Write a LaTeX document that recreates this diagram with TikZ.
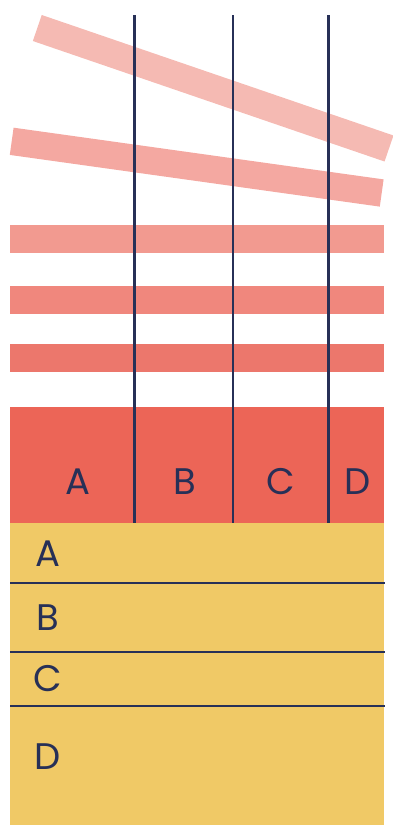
\documentclass[tikz,border=0pt]{standalone}
\usepackage{fontspec}
\setmainfont{Poppins}
\usetikzlibrary{positioning}
\definecolor{navy}{HTML}{273057}
\definecolor{pinkA}{HTML}{F5BAB3}
\definecolor{pinkB}{HTML}{F4A8A1}
\definecolor{pinkC}{HTML}{F29A90}
\definecolor{pinkD}{HTML}{F0877D}
\definecolor{pinkE}{HTML}{EC776C}
\definecolor{redblock}{HTML}{EC6557}
\definecolor{sand}{HTML}{F0C966}

\begin{document}
\begin{tikzpicture}[x=1pt, y=-1pt, band/.style={line width=27.5pt}, rule/.style={draw=navy, line width=2.2pt}, lab/.style={text=navy, inner sep=0pt, font=\fontsize{37}{40}\selectfont}]
\useasboundingbox (0,0) rectangle (392,825);
% slanted bands
\coordinate (s1a) at (37.3,28); \coordinate (s1b) at (389,148.5);
\coordinate (s2a) at (11.7,141.3); \coordinate (s2b) at (381.7,193);
\draw[band, pinkA] (s1a) -- (s1b);
\draw[band, pinkB] (s2a) -- (s2b);
% flat bands
\foreach \y/\c in {225/pinkC, 286/pinkD, 344/pinkE}
  \fill[\c] (10,\y) rectangle (384,\y+27.7);
\fill[redblock] (10,406.7) rectangle (384,522.7);
\fill[sand] (10,522.7) rectangle (384,825);
% columns
\foreach \x [count=\i] in {134.5,233,328.5} {
  \coordinate (top\i) at (\x,15);
  \coordinate (bot\i) at (\x,522.7);
  \draw[rule] (top\i) -- (bot\i);
}
\foreach \l/\x in {A/77.5, B/185, C/280.5, D/357.5}
  \node[lab] (col\l) at (\x,481.7) {\l};
% rows
\foreach \y [count=\i] in {583,651.7,705.7} {
  \coordinate (left\i) at (10,\y);
  \coordinate (right\i) at (385,\y);
  \draw[rule] (left\i) -- (right\i);
}
\foreach \l/\y in {A/553.3, B/617.7, C/678.3, D/756.7}
  \node[lab] (row\l) at (47.5,\y) {\l};
\end{tikzpicture}
\end{document}
